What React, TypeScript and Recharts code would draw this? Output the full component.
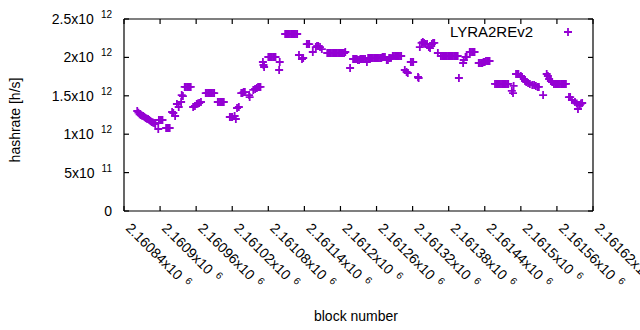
import { ScatterChart, Scatter, XAxis, YAxis } from 'recharts';

const FONT = '"Liberation Sans", Arial, sans-serif';
const PURPLE = '#9400d3';

const xTicks = [
  2160840, 2160900, 2160960, 2161020, 2161080, 2161140, 2161200,
  2161260, 2161320, 2161380, 2161440, 2161500, 2161560, 2161620,
];
const yTicks = [0, 5e11, 1e12, 1.5e12, 2e12, 2.5e12];
const X_MIN = 2160840;
const X_MAX = 2161620;
const Y_MAX = 2.5e12;

const blocks = [
  2160862, 2160864, 2160866, 2160868, 2160870, 2160872, 2160874, 2160876,
  2160878, 2160880, 2160882, 2160884, 2160886, 2160888, 2160890, 2160892,
  2160897, 2160898, 2160900, 2160902, 2160904, 2160910, 2160912, 2160914, 2160916,
  2160920, 2160922, 2160925, 2160928, 2160931, 2160935, 2160936, 2160938,
  2160941, 2160943, 2160945, 2160947, 2160949, 2160951,
  2160955, 2160958, 2160961, 2160963, 2160965, 2160968,
  2160976, 2160978, 2160980, 2160982, 2160984, 2160986, 2160988, 2160990,
  2160996, 2160998, 2161000, 2161002, 2161004, 2161006,
  2161016, 2161018, 2161020, 2161024, 2161026, 2161028, 2161031,
  2161035, 2161037, 2161039, 2161041, 2161048, 2161049,
  2161055, 2161058, 2161061, 2161063, 2161065, 2161067,
  2161071, 2161072, 2161073, 2161080, 2161082, 2161084, 2161086, 2161088, 2161090, 2161092,
  2161098, 2161099,
  2161108, 2161110, 2161112, 2161114, 2161116, 2161118, 2161120, 2161122, 2161124, 2161126, 2161128,
  2161131, 2161136, 2161138, 2161144, 2161146, 2161148,
  2161154, 2161159, 2161161, 2161163, 2161166, 2161169,
  2161178, 2161180, 2161182, 2161184, 2161186, 2161188, 2161190, 2161192,
  2161194, 2161196, 2161198, 2161200, 2161202, 2161204, 2161206, 2161208,
  2161216, 2161221, 2161223, 2161225, 2161227, 2161229, 2161231, 2161233,
  2161235, 2161237, 2161239, 2161241, 2161244, 2161246, 2161248, 2161250,
  2161252, 2161254, 2161256, 2161258, 2161260, 2161262, 2161264, 2161266, 2161268,
  2161270, 2161272, 2161274, 2161277, 2161279, 2161281, 2161284,
  2161287, 2161289, 2161291, 2161293, 2161295, 2161297, 2161299, 2161301,
  2161307, 2161310, 2161312, 2161317, 2161319, 2161321, 2161329, 2161330,
  2161332, 2161335, 2161337, 2161339, 2161341, 2161344, 2161347, 2161349, 2161352, 2161354, 2161356,
  2161362, 2161367, 2161369, 2161371, 2161373, 2161375, 2161377, 2161379,
  2161381, 2161383, 2161385, 2161387, 2161389, 2161391, 2161393, 2161395, 2161397,
  2161404, 2161405, 2161408, 2161410, 2161415, 2161417, 2161419, 2161421, 2161423,
  2161430, 2161432, 2161434, 2161436, 2161438, 2161440, 2161442, 2161444, 2161446, 2161448,
  2161457, 2161459, 2161461, 2161463, 2161465, 2161467, 2161469, 2161471, 2161473, 2161475, 2161477, 2161479,
  2161485, 2161487, 2161488, 2161492, 2161494, 2161496,
  2161500, 2161502, 2161505, 2161507, 2161509, 2161512, 2161515, 2161519, 2161522, 2161525, 2161528, 2161530,
  2161537, 2161543, 2161545, 2161547, 2161550, 2161552,
  2161555, 2161557, 2161559, 2161561, 2161563, 2161565, 2161567, 2161569, 2161571, 2161573, 2161575,
  2161580, 2161582, 2161585, 2161590, 2161593, 2161595, 2161598, 2161600, 2161602,
];

// hashrate in units of 10^12 h/s, same order as blocks
const hashrateT = [
  1.302, 1.28, 1.26, 1.25, 1.24, 1.237, 1.224, 1.21,
  1.2, 1.198, 1.185, 1.172, 1.159, 1.152, 1.146, 1.133,
  1.068, 1.185, 1.185, 1.185, 1.185, 1.081, 1.081, 1.081, 1.081,
  1.289, 1.276, 1.237, 1.393, 1.354, 1.419, 1.51, 1.497,
  1.615, 1.615, 1.615, 1.615, 1.615, 1.615,
  1.354, 1.367, 1.393, 1.4, 1.406, 1.419,
  1.536, 1.536, 1.536, 1.536, 1.536, 1.536, 1.536, 1.536,
  1.419, 1.419, 1.419, 1.419, 1.419, 1.419,
  1.224, 1.224, 1.224, 1.237, 1.198, 1.341, 1.354,
  1.536, 1.536, 1.549, 1.549, 1.51, 1.484,
  1.576, 1.589, 1.6, 1.615, 1.615, 1.615,
  1.94, 1.901, 1.875, 2.005, 2.005, 2.005, 2.005, 2.005, 2.005, 2.005,
  1.836, 1.94,
  2.305, 2.305, 2.305, 2.305, 2.305, 2.305, 2.305, 2.305, 2.305, 2.305, 2.305,
  2.031, 1.979, 1.992, 2.174, 2.174, 2.174,
  2.07, 2.135, 2.148, 2.148, 2.135, 2.109,
  2.057, 2.057, 2.057, 2.057, 2.057, 2.057, 2.057, 2.057,
  2.057, 2.057, 2.057, 2.057, 2.057, 2.057, 2.057, 2.07,
  1.862, 1.979, 1.979, 1.979, 1.979, 1.966, 1.966, 1.979,
  1.979, 1.979, 1.979, 1.979, 1.94, 1.992, 1.992, 1.992,
  1.992, 1.992, 1.992, 1.992, 1.992, 1.992, 1.992, 1.992, 1.992,
  2.005, 2.005, 2.005, 1.966, 1.966, 1.992, 1.992,
  2.018, 2.018, 2.018, 2.018, 2.018, 2.018, 2.018, 2.018,
  1.836, 1.81, 1.797, 1.94, 1.94, 1.94, 1.745, 1.732,
  2.135, 2.188, 2.2, 2.188, 2.174, 2.174, 2.135, 2.122, 2.174, 2.188, 2.188,
  2.057, 2.018, 2.018, 2.018, 2.018, 2.018, 2.018, 2.018,
  2.018, 2.018, 2.018, 2.018, 2.018, 2.018, 2.018, 2.018, 1.732,
  1.927, 1.966, 2.005, 2.005, 2.07, 2.07, 2.07, 2.07, 2.07,
  1.927, 1.927, 1.927, 1.927, 1.94, 1.94, 1.953, 1.953, 1.953, 1.953,
  1.654, 1.654, 1.654, 1.654, 1.654, 1.654, 1.654, 1.654, 1.654, 1.654, 1.654, 1.654,
  1.563, 1.536, 1.628, 1.784, 1.784, 1.784,
  1.758, 1.745, 1.719, 1.693, 1.68, 1.667, 1.654, 1.641, 1.641, 1.628, 1.615, 1.615,
  1.51, 1.784, 1.758, 1.719, 1.693, 1.68,
  1.654, 1.654, 1.654, 1.654, 1.654, 1.654, 1.654, 1.654, 1.654, 1.654, 1.654,
  1.484, 1.484, 1.445, 1.419, 1.4, 1.328, 1.38, 1.4, 1.406,
];

const data = blocks.map((b, i) => ({ block: b, hashrate: hashrateT[i] * 1e12 }));

const W = 640;
const H = 330;
const MARGIN = { top: 19, right: 47, bottom: 4, left: 4 };
const X_AXIS_H = 115;
const Y_AXIS_W = 120;
const PLOT_L = MARGIN.left + Y_AXIS_W;
const PLOT_T = MARGIN.top;
const PLOT_W = W - MARGIN.left - MARGIN.right - Y_AXIS_W;
const PLOT_H = H - MARGIN.top - MARGIN.bottom - X_AXIS_H;
const PLOT_R = PLOT_L + PLOT_W;
const PLOT_B = PLOT_T + PLOT_H;

// pixel positions of the tick marks (same linear mapping as the axes)
const tickX = (v: number) => PLOT_L + ((v - X_MIN) / (X_MAX - X_MIN)) * PLOT_W;
const tickY = (v: number) => PLOT_B - (v / Y_MAX) * PLOT_H;

// "2.16084x10^6" style pieces
function sci(v: number): [string, number] {
  const e = Math.floor(Math.log10(v));
  const m = parseFloat((v / Math.pow(10, e)).toFixed(6)).toString();
  return [m, e];
}

const Plus = (props: any) => {
  const { cx, cy } = props;
  if (cx == null || cy == null) return null;
  return (
    <path
      d={`M${cx - 4},${cy}H${cx + 4}M${cx},${cy - 4}V${cy + 4}`}
      stroke={PURPLE}
      strokeWidth={1.8}
      fill="none"
    />
  );
};

const BottomTick = ({ x, y, payload }: any) => {
  const [m, e] = sci(payload.value);
  return (
    <text
      transform={`translate(${x + 1},${y + 18}) rotate(45)`}
      fontSize={14}
      fontFamily={FONT}
      fill="#000"
    >
      {m}x10
      <tspan dx={6} dy={-5} fontSize={10}>
        {e}
      </tspan>
    </text>
  );
};

const LeftTick = ({ x, y, payload }: any) => {
  const v = payload.value;
  const [m, e] = v === 0 ? ['0', 0] : sci(v);
  return (
    <text x={x - 12} y={y + 5} textAnchor="end" fontSize={14} fontFamily={FONT} fill="#000">
      {v === 0 ? (
        '0'
      ) : (
        <>
          {m}x10
          <tspan dx={7} dy={-6} fontSize={10}>
            {e}
          </tspan>
        </>
      )}
    </text>
  );
};

const Seg = ({ x1, y1, x2, y2 }: any) => (
  <line x1={x1} y1={y1} x2={x2} y2={y2} stroke="black" strokeWidth={1.2} />
);

export default function App() {
  return (
    <div style={{ position: 'absolute', left: 0, top: 0, width: W, height: H, background: '#fff' }}>
      <ScatterChart width={W} height={H} margin={MARGIN}>
        <XAxis
          dataKey="block"
          type="number"
          domain={[X_MIN, X_MAX]}
          ticks={xTicks}
          interval={0}
          height={X_AXIS_H}
          tickSize={0}
          tickMargin={0}
          tickLine={false}
          tick={BottomTick}
          axisLine={false}
          allowDataOverflow
        />
        <YAxis
          dataKey="hashrate"
          type="number"
          domain={[0, Y_MAX]}
          ticks={yTicks}
          interval={0}
          width={Y_AXIS_W}
          tickSize={0}
          tickMargin={0}
          tickLine={false}
          tick={LeftTick}
          axisLine={false}
          allowDataOverflow
        />
        <Scatter name="LYRA2REv2" data={data} shape={Plus} isAnimationActive={false} />
      </ScatterChart>
      <svg
        width={W}
        height={H}
        style={{ position: 'absolute', left: 0, top: 0, pointerEvents: 'none' }}
        fontFamily={FONT}
      >
        <Seg x1={PLOT_L} y1={PLOT_T} x2={PLOT_R} y2={PLOT_T} />
        <Seg x1={PLOT_L} y1={PLOT_B} x2={PLOT_R} y2={PLOT_B} />
        <Seg x1={PLOT_L} y1={PLOT_T} x2={PLOT_L} y2={PLOT_B} />
        <Seg x1={PLOT_R} y1={PLOT_T} x2={PLOT_R} y2={PLOT_B} />
        {xTicks.map((t) => (
          <g key={`x${t}`}>
            <Seg x1={tickX(t)} y1={PLOT_B} x2={tickX(t)} y2={PLOT_B - 5} />
            <Seg x1={tickX(t)} y1={PLOT_T} x2={tickX(t)} y2={PLOT_T + 5} />
          </g>
        ))}
        {yTicks.map((t) => (
          <g key={`y${t}`}>
            <Seg x1={PLOT_L} y1={tickY(t)} x2={PLOT_L + 5} y2={tickY(t)} />
            <Seg x1={PLOT_R} y1={tickY(t)} x2={PLOT_R - 5} y2={tickY(t)} />
          </g>
        ))}
        <text x={533} y={37} textAnchor="end" fontSize={15} fill="#000">
          LYRA2REv2
        </text>
        <path d="M564,32H572M568,28V36" stroke={PURPLE} strokeWidth={1.8} />
        <text x={356} y={321} textAnchor="middle" fontSize={14} fill="#000">
          block number
        </text>
        <text x={20} y={120} textAnchor="middle" fontSize={14} fill="#000" transform="rotate(-90 20 120)">
          hashrate [h/s]
        </text>
      </svg>
    </div>
  );
}
